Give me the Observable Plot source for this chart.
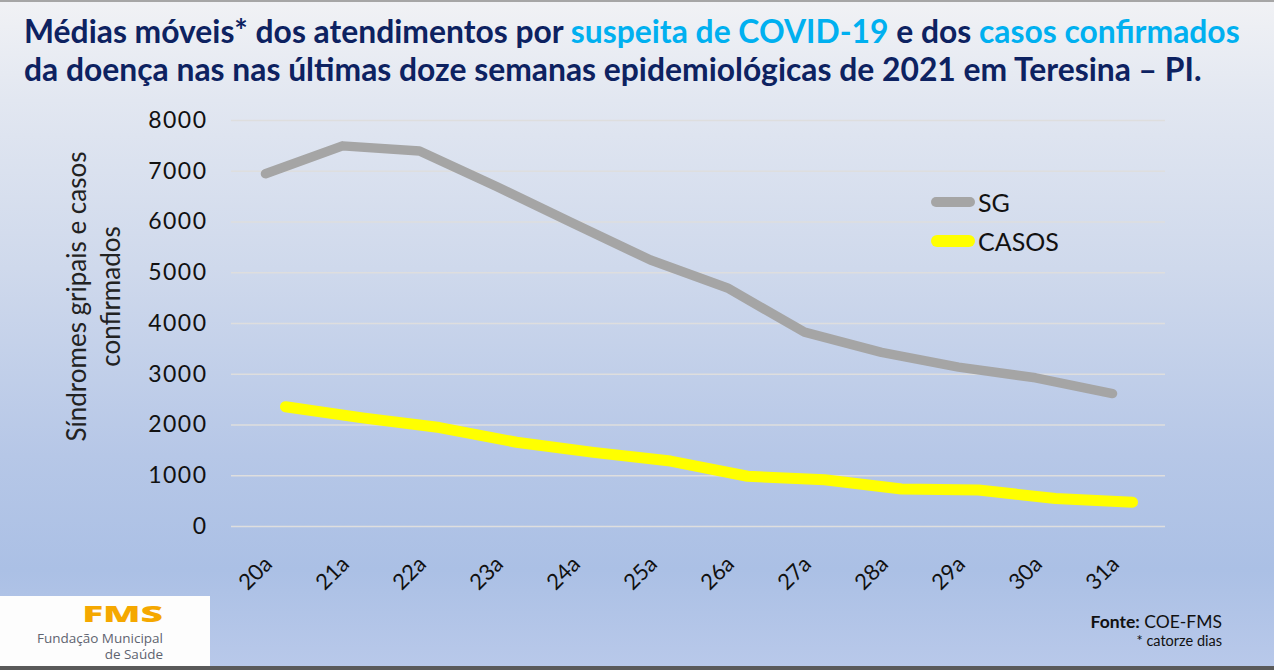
<!DOCTYPE html>
<html><head><meta charset="utf-8">
<script src="https://cdn.jsdelivr.net/npm/d3@7"></script>
<script src="https://cdn.jsdelivr.net/npm/@observablehq/plot@0.6"></script>
<style>
html,body{margin:0;padding:0;}
body{width:1274px;height:670px;position:relative;overflow:hidden;
 background:linear-gradient(to bottom,#f1f2f5 0%,#e2e7f1 15%,#cfd9ec 40%,#b6c7e7 68%,#abc0e5 85%,#b9c9ea 100%);
 font-family:Lato,"Open Sans",sans-serif;}
#topline{position:absolute;left:0;top:0;width:1274px;height:2px;background:#a6a6a6;}
#bottomline{position:absolute;left:0;top:666px;width:1274px;height:4px;background:#5a5a5a;}
#title{position:absolute;left:24px;top:12px;color:#0d2261;font-weight:700;font-size:30px;line-height:38px;white-space:nowrap;}
#title div{white-space:nowrap;display:block;}
.hl{color:#00b0f0;}
#chart{position:absolute;left:0;top:100px;}
#legend{position:absolute;left:931px;top:182px;font-size:25px;color:#111;}
.lrow{height:39px;display:flex;align-items:center;}
.sw{display:inline-block;width:44px;border-radius:6px;margin-right:3px;}
#logo{position:absolute;left:0;top:596px;width:210px;height:70px;background:#fdfdfd;}
#logo .fms{position:absolute;right:47px;top:5px;font-family:"Open Sans",sans-serif;font-weight:800;font-size:23.5px;line-height:24px;color:#f5a800;transform:scaleX(1.65);transform-origin:right center;}
#logo .l1{position:absolute;right:47px;top:35px;font-family:"Open Sans",sans-serif;font-size:13.5px;line-height:15px;color:#5f6470;}
#logo .l2{position:absolute;right:47px;top:51px;font-family:"Open Sans",sans-serif;font-size:13.5px;line-height:15px;color:#5f6470;}
#fonte{position:absolute;right:52px;top:611px;text-align:right;color:#111;}
#fonte .f1{font-size:17.5px;line-height:21px;}
#fonte .f2{font-size:14.5px;line-height:18px;}
.yax text{letter-spacing:1.5px;}
</style></head>
<body>
<div id="topline"></div>
<div id="title">
 <div id="t1">Médias móveis* dos atendimentos por <span class="hl">suspeita de COVID-19</span> e dos <span class="hl">casos confirmados</span></div>
 <div id="t2">da doença nas nas últimas doze semanas epidemiológicas de 2021 em Teresina – PI.</div>
</div>
<div id="chart"></div>
<div id="legend"></div>
<div id="logo"><div class="fms">FMS</div><div class="l1">Fundação Municipal</div><div class="l2">de Saúde</div></div>
<div id="fonte"><div class="f1"><b>Fonte:</b> COE-FMS</div><div class="f2">* catorze dias</div></div>
<div id="bottomline"></div>
<script>
const weeks = ["20a","21a","22a","23a","24a","25a","26a","27a","28a","29a","30a","31a"];
const sgValues = [6950, 7500, 7400, 6700, 5970, 5250, 4700, 3830, 3430, 3140, 2930, 2620];
const casosValues = [2360, 2140, 1950, 1660, 1460, 1290, 990, 920, 740, 720, 550, 480];
const yTicks = [0, 1000, 2000, 3000, 4000, 5000, 6000, 7000, 8000];
const seriesNames = ["SG", "CASOS"];
const seriesColors = ["#a5a5a5", "#ffff00"];
const yLabel = "Síndromes gripais e casos\nconfirmados";

// fit title width
const t1 = document.getElementById("t1");
const w = t1.getBoundingClientRect().width;
const fs = 30 * 1216 / w;
document.getElementById("title").style.fontSize = fs.toFixed(2) + "px";

const chart = Plot.plot({
  width: 1274,
  height: 500,
  marginTop: 20,
  marginBottom: 74,
  marginLeft: 231,
  marginRight: 109,
  style: {background: "transparent", fontFamily: "Lato, 'Open Sans', sans-serif", color: "#111"},
  x: {type: "point", domain: weeks, padding: 0.5435},
  y: {domain: [0, 8000]},
  marks: [
    Plot.gridY(yTicks, {stroke: "#dedede", strokeOpacity: 1, strokeWidth: 1.5}),
    Plot.axisY(yTicks, {tickSize: 0, tickPadding: 24, fontSize: 23, fill: "#111", label: null, tickFormat: d => String(d), className: "yax"}),
    Plot.axisX({tickSize: 0, tickRotate: -45, tickPadding: 34, dx: -7, fontSize: 22, fill: "#111", label: null}),
    Plot.text([yLabel], {frameAnchor: "left", rotate: -90, dx: -139, dy: -27, fontSize: 26, lineHeight: 1.31, textAnchor: "middle", fill: "#222"}),
    Plot.line(weeks, {x: weeks, y: sgValues, dx: -10, stroke: seriesColors[0], strokeWidth: 9.5, strokeLinecap: "round", strokeLinejoin: "round"}),
    Plot.line(weeks, {x: weeks, y: casosValues, dx: 10, stroke: seriesColors[1], strokeWidth: 11, strokeLinecap: "round", strokeLinejoin: "round"})
  ]
});
document.getElementById("chart").appendChild(chart);

const legend = document.getElementById("legend");
seriesNames.forEach((name, i) => {
  const row = document.createElement("div");
  row.className = "lrow";
  const sw = document.createElement("span");
  sw.className = "sw";
  sw.style.background = seriesColors[i];
  sw.style.height = i === 0 ? "10px" : "12px";
  const t = document.createElement("span");
  t.textContent = name;
  row.appendChild(sw); row.appendChild(t);
  legend.appendChild(row);
});
</script>
</body></html>
